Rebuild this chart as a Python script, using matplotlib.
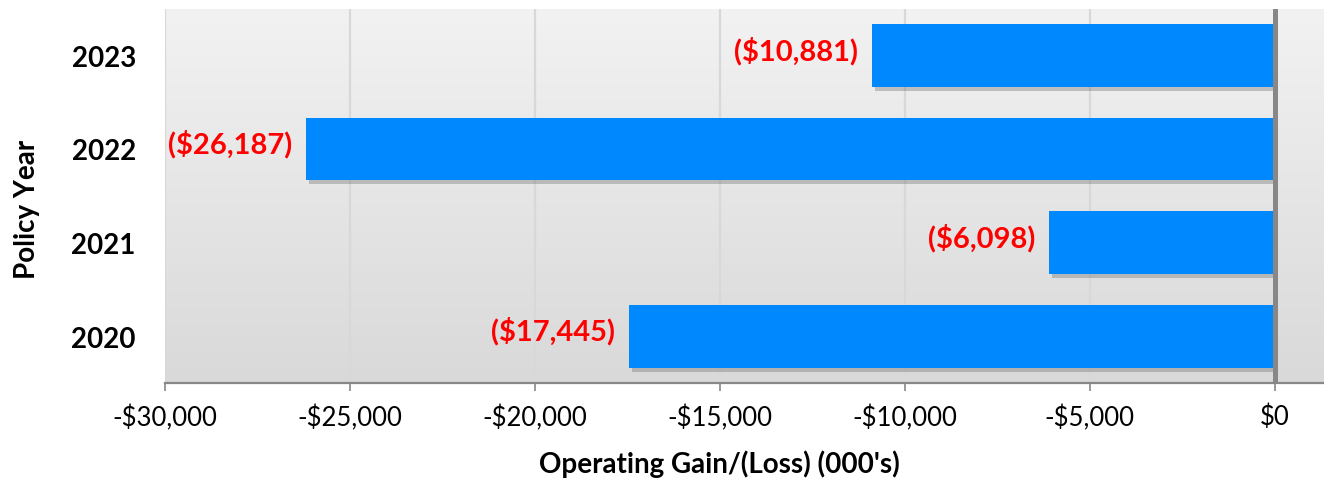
import matplotlib
matplotlib.use("Agg")
import matplotlib.pyplot as plt
import matplotlib.patheffects as pe
from matplotlib.colors import LinearSegmentedColormap
import numpy as np

years = ["2020", "2021", "2022", "2023"]
values = [-17445, -6098, -26187, -10881]
labels = ["($17,445)", "($6,098)", "($26,187)", "($10,881)"]
xticks = [-30000, -25000, -20000, -15000, -10000, -5000, 0]
xticklabels = ["-$30,000", "-$25,000", "-$20,000", "-$15,000", "-$10,000", "-$5,000", "$0"]

plt.rcParams['font.family'] = ['Lato', 'DejaVu Sans']

fig = plt.figure(figsize=(13.24, 4.81), dpi=100)
ax = fig.add_axes([165/1324, 97/481, (1324-165)/1324, (481-97-9.5)/481])

# gradient background
grad = np.linspace(0, 1, 256).reshape(-1, 1)
cmap = LinearSegmentedColormap.from_list("bg", ["#D9D9D9", "#F2F2F2"])
ax.imshow(grad, cmap=cmap, aspect="auto", extent=[0, 1, 0, 1],
          transform=ax.transAxes, origin="lower", zorder=0)

ax.set_xlim(-30000, 1335)
ax.set_ylim(-0.5, 3.5)

for t in xticks[:-1]:
    ax.axvline(t, color="#D8D8D8", lw=1.6, zorder=1)

y = np.arange(len(years))
bars = ax.barh(y, values, height=0.67, color="#0088FF", zorder=3)
for b in bars:
    b.set_path_effects([pe.SimplePatchShadow(offset=(2, -3), shadow_rgbFace="#555555", alpha=0.3),
                        pe.Normal()])

ax.axvline(0, color="#878787", lw=3.6, zorder=4)

for yi, v, lab in zip(y, values, labels):
    ax.annotate(lab, (v, yi), xytext=(-10, 4), textcoords="offset points",
                ha="right", va="center", color="#FF0000", fontsize=21,
                fontweight="bold", zorder=5)

ax.set_yticks(y)
ax.set_yticklabels(years, fontsize=20, fontweight="bold")
ax.tick_params(axis="y", length=0, pad=21)
ax.set_xticks(xticks)
ax.set_xticklabels(xticklabels, fontsize=18.5)
ax.tick_params(axis="x", length=6, width=1.2, color="#878787", pad=9)

for s in ["top", "right", "left"]:
    ax.spines[s].set_visible(False)
ax.spines["bottom"].set_color("#878787")
ax.spines["bottom"].set_linewidth(1.6)

ax.set_xlabel("Operating Gain/(Loss) (000's)", fontsize=20, fontweight="bold")
ax.xaxis.set_label_coords(0.478, -0.178)
ax.set_ylabel("Policy Year", fontsize=20, fontweight="bold")
ax.yaxis.set_label_coords(-0.108, 0.465)

fig.savefig("out.png", dpi=100)
